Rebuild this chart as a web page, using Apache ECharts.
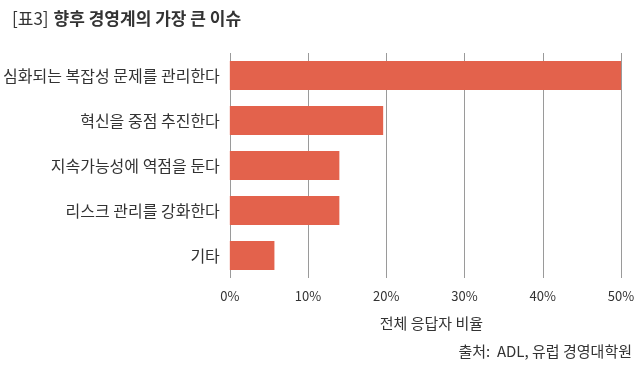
<!DOCTYPE html>
<html><head><meta charset="utf-8">
<script src="https://cdn.jsdelivr.net/npm/echarts@6/dist/echarts.min.js"></script>
<style>html,body{margin:0;padding:0;background:#fff}#c{width:640px;height:368px}</style>
</head><body><div id="c"></div>
<script>
const categories = ['심화되는 복잡성 문제를 관리한다','혁신을 중점 추진한다','지속가능성에 역점을 둔다','리스크 관리를 강화한다','기타'];
const values = [50.1, 19.6, 14.0, 14.0, 5.7];
const xTicks = [0, 10, 20, 30, 40, 50];
const titleText = '향후 경영계의 가장 큰 이슈';
const titleTag = '[표3]';
const axisName = '전체 응답자 비율';
const sourceText = '출처:  ADL, 유럽 경영대학원';

const FONT = '"Noto Sans CJK KR", "Noto Sans", sans-serif';
const chart = echarts.init(document.getElementById('c'), null, {renderer:'canvas'});
chart.setOption({
  animation:false,
  backgroundColor:'#fff',
  title:[{
    text:'{a|' + titleTag + '} {b|' + titleText + '}',
    left:7, top:5,
    textStyle:{rich:{
      a:{fontFamily:FONT, fontSize:17, fontWeight:'normal', color:'#333'},
      b:{fontFamily:FONT, fontSize:17, fontWeight:'bold', color:'#333'}
    }}
  },{
    text:sourceText, right:3, top:339,
    textStyle:{fontFamily:FONT, fontSize:15, fontWeight:'normal', color:'#333'}
  }],
  grid:{left:228, right:19, top:53, bottom:90, containLabel:false},
  xAxis:{
    type:'value', min:xTicks[0], max:xTicks[xTicks.length-1], interval:10,
    name:axisName, nameLocation:'middle', nameGap:38,
    nameTextStyle:{fontFamily:FONT, fontSize:15, color:'#333', padding:[0,0,0,12]},
    axisLine:{show:false}, axisTick:{show:false},
    axisLabel:{formatter:v=>v+'%', fontFamily:FONT, fontSize:13, color:'#333', margin:12},
    splitLine:{show:true, lineStyle:{color:'#9a9a9a', width:1}}
  },
  yAxis:{
    type:'category', data:categories, inverse:true,
    axisLine:{show:false}, axisTick:{show:false},
    axisLabel:{fontFamily:FONT, fontSize:16, color:'#333', margin:10}
  },
  series:[{
    type:'bar', data:values, barWidth:'64%',
    itemStyle:{color:'#E3624C'}
  }]
});
</script></body></html>
